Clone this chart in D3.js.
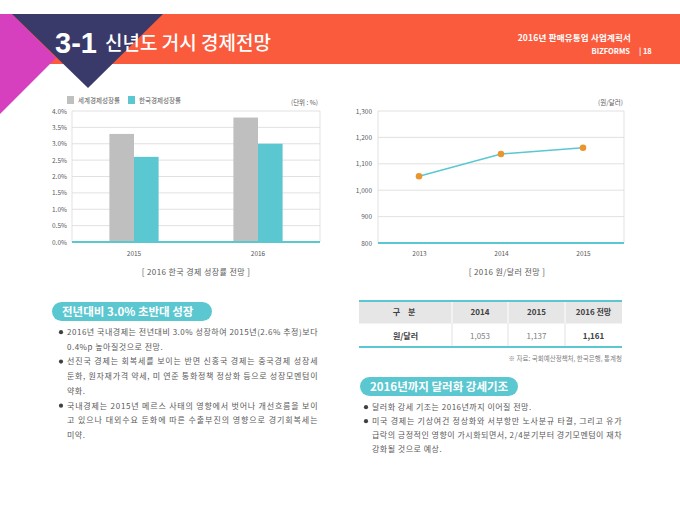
<!DOCTYPE html>
<html>
<head>
<meta charset="utf-8">
<script src="https://cdn.jsdelivr.net/npm/d3@7"></script>
<style>
  body { margin: 0; background: #fff; }
  svg { display: block; }
  text { font-family: "Noto Sans CJK KR", "Noto Sans", sans-serif; }
</style>
</head>
<body>
<svg id="slide" width="680" height="510"></svg>
<script>
// growth chart
var growthYears = ['2015', '2016'];
var growthSeries = ['세계경제성장률', '한국경제성장률'];
var worldGrowth = [3.3, 3.8];
var koreaGrowth = [2.6, 3.0];
var growthTicks = [0, 0.5, 1.0, 1.5, 2.0, 2.5, 3.0, 3.5, 4.0];

// exchange rate chart
var fxYears = ['2013', '2014', '2015'];
var fxRates = [1053, 1137, 1161];
var fxTicks = [800, 900, 1000, 1100, 1200, 1300];

// table
var tableHead = ['구 분', '2014', '2015', '2016 전망'];
var tableRow = ['원/달러', '1,053', '1,137', '1,161'];

var leftBullets = [
  ['2016년 국내경제는 전년대비 3.0% 성장하여 2015년(2.6% 추정)보다', '0.4%p 높아질것으로 전망.'],
  ['선진국 경제는 회복세를 보이는 반면 신흥국 경제는 중국경제 성장세', '둔화, 원자재가격 약세, 미 연준 통화정책 정상화 등으로 성장모멘텀이', '약화.'],
  ['국내경제는 2015년 메르스 사태의 영향에서 벗어나 개선흐름을 보이', '고 있으나 대외수요 둔화에 따른 수출부진의 영향으로 경기회복세는', '미약.']
];
var rightBullets = [
  ['달러화 강세 기조는 2016년까지 이어질 전망.'],
  ['미국 경제는 기상여건 정상화와 서부항만 노사분규 타결, 그리고 유가', '급락의 긍정적인 영향이 가시화되면서, 2/4분기부터 경기모멘텀이 재차', '강화될 것으로 예상.']
];

var teal = '#5bc7d1';
var grey = '#bfbfbf';
var orange = '#e9962f';
var textGrey = '#595959';

var svg = d3.select('#slide');

// ---- header band ----
svg.append('rect')
  .attr('x', 0).attr('y', 14).attr('width', 680).attr('height', 50)
  .attr('fill', '#fa5b3d');
svg.append('polygon')
  .attr('points', '0,14 12,14 56,58 0,114')
  .attr('fill', '#d63fbe');
svg.append('polygon')
  .attr('points', '12,14 163,14 88,88')
  .attr('fill', '#3a3a6a');

svg.append('text')
  .attr('x', 55).attr('y', 53)
  .attr('fill', '#fff')
  .style('font-family', '"Liberation Sans Narrow", "Liberation Sans", Arial, sans-serif')
  .style('font-weight', 'bold')
  .style('font-size', '29px')
  .text('3-1');
svg.append('text')
  .attr('x', 105).attr('y', 50)
  .attr('fill', '#fff')
  .style('font-size', '19px')
  .style('font-weight', 500)
  .text('신년도 거시 경제전망');

svg.append('text')
  .attr('x', 631).attr('y', 41)
  .attr('text-anchor', 'end')
  .attr('fill', '#fff')
  .style('font-size', '8.5px')
  .style('font-weight', 'bold')
  .style('letter-spacing', '0.2px')
  .text('2016년 판매유통업 사업계획서');
svg.append('text')
  .attr('x', 630).attr('y', 54)
  .attr('text-anchor', 'end')
  .attr('fill', '#fff')
  .style('font-size', '7.5px')
  .style('font-weight', 'bold')
  .text('BIZFORMS');
svg.append('text')
  .attr('x', 639).attr('y', 54)
  .attr('fill', '#fff')
  .style('font-size', '7.5px')
  .style('font-weight', 'bold')
  .text('| 18');

// ---- growth bar chart ----
var bc = { left: 72, right: 320, top: 111, bottom: 242 };

var x0 = d3.scaleBand().domain(growthYears).range([bc.left, bc.right]);
var x1 = d3.scaleBand().domain(growthSeries).range([0, x0.bandwidth()]).paddingOuter(1.52);
var yG = d3.scaleLinear().domain([0, 4]).range([bc.bottom, bc.top]);
var barColor = d3.scaleOrdinal().domain(growthSeries).range([grey, teal]);

var growthChart = svg.append('g').attr('class', 'growth');

growthChart.append('g')
  .selectAll('line')
  .data(growthTicks)
  .join('line')
  .attr('x1', bc.left).attr('x2', bc.right)
  .attr('y1', function(d) { return yG(d); })
  .attr('y2', function(d) { return yG(d); })
  .attr('stroke', '#d9d9d9')
  .attr('stroke-width', 0.8);

growthChart.selectAll('.side')
  .data([bc.left, bc.right])
  .join('line')
  .attr('class', 'side')
  .attr('x1', function(d) { return d; }).attr('x2', function(d) { return d; })
  .attr('y1', bc.top).attr('y2', bc.bottom)
  .attr('stroke', '#d9d9d9')
  .attr('stroke-width', 0.8);

var growthRows = growthYears.map(function(year, i) {
  return { year: year, values: [
    { key: growthSeries[0], value: worldGrowth[i] },
    { key: growthSeries[1], value: koreaGrowth[i] }
  ] };
});

growthChart.selectAll('.year')
  .data(growthRows)
  .join('g')
  .attr('class', 'year')
  .attr('transform', function(d) { return 'translate(' + x0(d.year) + ',0)'; })
  .selectAll('rect')
  .data(function(d) { return d.values; })
  .join('rect')
  .attr('x', function(d) { return x1(d.key); })
  .attr('width', x1.bandwidth())
  .attr('y', function(d) { return yG(d.value); })
  .attr('height', function(d) { return yG(0) - yG(d.value); })
  .attr('fill', function(d) { return barColor(d.key); });

growthChart.append('line')
  .attr('x1', bc.left).attr('x2', bc.right)
  .attr('y1', bc.bottom).attr('y2', bc.bottom)
  .attr('stroke', teal)
  .attr('stroke-width', 2);

growthChart.append('g')
  .attr('transform', 'translate(' + bc.left + ',0)')
  .call(d3.axisLeft(yG).tickValues(growthTicks).tickSize(0).tickPadding(5)
    .tickFormat(function(d) { return d3.format('.1f')(d) + '%'; }))
  .call(function(g) { g.select('.domain').remove(); })
  .attr('font-family', null)
  .attr('font-size', 6.5)
  .selectAll('text').attr('fill', textGrey);

growthChart.append('g')
  .attr('transform', 'translate(0,' + bc.bottom + ')')
  .call(d3.axisBottom(x0).tickSize(0).tickPadding(9))
  .call(function(g) { g.select('.domain').remove(); })
  .attr('font-family', null)
  .attr('font-size', 6.5)
  .selectAll('text').attr('fill', textGrey);

// legend
var legend = growthChart.selectAll('.legend')
  .data(growthSeries)
  .join('g')
  .attr('class', 'legend')
  .attr('transform', function(d, i) { return 'translate(' + (67 + i * 61) + ',96)'; });
legend.append('rect')
  .attr('width', 7).attr('height', 8)
  .attr('fill', function(d) { return barColor(d); });
legend.append('text')
  .attr('x', 11).attr('y', 6.5)
  .attr('fill', textGrey)
  .style('font-size', '6.5px')
  .text(function(d) { return d; });

growthChart.append('text')
  .attr('x', 318).attr('y', 105)
  .attr('text-anchor', 'end')
  .attr('fill', textGrey)
  .style('font-size', '6.5px')
  .text('(단위 : %)');

growthChart.append('text')
  .attr('x', (bc.left + bc.right) / 2).attr('y', 275)
  .attr('text-anchor', 'middle')
  .attr('fill', textGrey)
  .style('font-size', '8px')
  .style('letter-spacing', '0.4px')
  .text('[ 2016 한국 경제 성장률 전망 ]');

// ---- exchange rate line chart ----
var lc = { left: 378, right: 624, top: 111, bottom: 243 };

var xF = d3.scalePoint().domain(fxYears).range([lc.left, lc.right]).padding(0.5);
var yF = d3.scaleLinear().domain([800, 1300]).range([lc.bottom, lc.top]);

var fxChart = svg.append('g').attr('class', 'fx');

fxChart.append('g')
  .selectAll('line')
  .data(fxTicks)
  .join('line')
  .attr('x1', lc.left).attr('x2', lc.right)
  .attr('y1', function(d) { return yF(d); })
  .attr('y2', function(d) { return yF(d); })
  .attr('stroke', '#d9d9d9')
  .attr('stroke-width', 0.8);

fxChart.selectAll('.side')
  .data([lc.left, lc.right])
  .join('line')
  .attr('class', 'side')
  .attr('x1', function(d) { return d; }).attr('x2', function(d) { return d; })
  .attr('y1', lc.top).attr('y2', lc.bottom)
  .attr('stroke', '#d9d9d9')
  .attr('stroke-width', 0.8);

fxChart.append('line')
  .attr('x1', lc.left).attr('x2', lc.right)
  .attr('y1', lc.bottom).attr('y2', lc.bottom)
  .attr('stroke', teal)
  .attr('stroke-width', 2);

var fxData = fxYears.map(function(year, i) { return { year: year, rate: fxRates[i] }; });

var fxLine = d3.line()
  .x(function(d) { return xF(d.year); })
  .y(function(d) { return yF(d.rate); });

fxChart.append('path')
  .datum(fxData)
  .attr('d', fxLine)
  .attr('fill', 'none')
  .attr('stroke', teal)
  .attr('stroke-width', 1.5);

fxChart.selectAll('circle')
  .data(fxData)
  .join('circle')
  .attr('cx', function(d) { return xF(d.year); })
  .attr('cy', function(d) { return yF(d.rate); })
  .attr('r', 3.3)
  .attr('fill', orange);

fxChart.append('g')
  .attr('transform', 'translate(' + lc.left + ',0)')
  .call(d3.axisLeft(yF).tickValues(fxTicks).tickSize(0).tickPadding(6).tickFormat(d3.format(',')))
  .call(function(g) { g.select('.domain').remove(); })
  .attr('font-family', null)
  .attr('font-size', 6.5)
  .selectAll('text').attr('fill', textGrey);

fxChart.append('g')
  .attr('transform', 'translate(0,' + lc.bottom + ')')
  .call(d3.axisBottom(xF).tickSize(0).tickPadding(8))
  .call(function(g) { g.select('.domain').remove(); })
  .attr('font-family', null)
  .attr('font-size', 6.5)
  .selectAll('text').attr('fill', textGrey);

fxChart.append('text')
  .attr('x', 623).attr('y', 105)
  .attr('text-anchor', 'end')
  .attr('fill', textGrey)
  .style('font-size', '6.5px')
  .text('(원/달러)');

fxChart.append('text')
  .attr('x', 507).attr('y', 275)
  .attr('text-anchor', 'middle')
  .attr('fill', textGrey)
  .style('font-size', '8px')
  .style('letter-spacing', '0.4px')
  .text('[ 2016 원/달러 전망 ]');

// ---- pills ----
function pill(x, y, w, label) {
  var g = svg.append('g').attr('transform', 'translate(' + x + ',' + y + ')');
  g.append('rect')
    .attr('width', w).attr('height', 19)
    .attr('rx', 9.5)
    .attr('fill', teal);
  g.append('text')
    .attr('x', 10).attr('y', 13.8)
    .attr('fill', '#fff')
    .style('font-size', '11.5px')
    .style('font-weight', 'bold')
    .text(label);
}
pill(52, 302, 160, '전년대비 3.0% 초반대 성장');
pill(360, 377, 158, '2016년까지 달러화 강세기조');

// ---- bullet text ----
function bullets(list, x, y0, lh, width) {
  var y = y0;
  list.forEach(function(lines) {
    svg.append('circle')
      .attr('cx', x - 6).attr('cy', y - 2.8)
      .attr('r', 2.1)
      .attr('fill', '#404040');
    lines.forEach(function(line, i) {
      var t = svg.append('text')
        .attr('x', x).attr('y', y)
        .attr('fill', textGrey)
        .style('font-size', '8px')
        .style('letter-spacing', '0.5px')
        .text(line);
      if (i < lines.length - 1) {
        t.attr('textLength', width).attr('lengthAdjust', 'spacing');
      }
      y += lh;
    });
  });
}
bullets(leftBullets, 67, 335, 14.7, 251);
bullets(rightBullets, 372, 410, 14, 250);

// ---- table ----
var colEdges = [359, 452, 508, 565, 622];
var tb = svg.append('g').attr('class', 'table');

tb.append('rect')
  .attr('x', colEdges[0]).attr('y', 301)
  .attr('width', colEdges[4] - colEdges[0]).attr('height', 22.5)
  .attr('fill', '#e6e6e6');

tb.selectAll('.vhead')
  .data(colEdges.slice(1, 4))
  .join('line')
  .attr('class', 'vhead')
  .attr('x1', function(d) { return d; }).attr('x2', function(d) { return d; })
  .attr('y1', 301).attr('y2', 323.5)
  .attr('stroke', '#fff').attr('stroke-width', 1);

tb.selectAll('.vrow')
  .data(colEdges.slice(1, 4))
  .join('line')
  .attr('class', 'vrow')
  .attr('x1', function(d) { return d; }).attr('x2', function(d) { return d; })
  .attr('y1', 323.5).attr('y2', 347)
  .attr('stroke', '#d9d9d9').attr('stroke-width', 0.8);

tb.selectAll('.hline')
  .data([301, 347])
  .join('line')
  .attr('class', 'hline')
  .attr('x1', colEdges[0]).attr('x2', colEdges[4])
  .attr('y1', function(d) { return d; }).attr('y2', function(d) { return d; })
  .attr('stroke', teal).attr('stroke-width', 2);

tb.selectAll('.head')
  .data(tableHead)
  .join('text')
  .attr('class', 'head')
  .attr('x', function(d, i) { return (colEdges[i] + colEdges[i + 1]) / 2; })
  .attr('y', 315)
  .attr('text-anchor', 'middle')
  .attr('fill', '#404040')
  .style('font-size', '8px')
  .style('font-weight', 'bold')
  .style('letter-spacing', function(d, i) { return i === 0 ? '3px' : null; })
  .text(function(d) { return d; });

tb.selectAll('.cell')
  .data(tableRow)
  .join('text')
  .attr('class', 'cell')
  .attr('x', function(d, i) { return (colEdges[i] + colEdges[i + 1]) / 2; })
  .attr('y', 338.5)
  .attr('text-anchor', 'middle')
  .attr('fill', function(d, i) { return (i === 0 || i === 3) ? '#404040' : '#7f7f7f'; })
  .style('font-size', '8px')
  .style('font-weight', function(d, i) { return (i === 0 || i === 3) ? 'bold' : 'normal'; })
  .text(function(d) { return d; });

svg.append('text')
  .attr('x', 622).attr('y', 361)
  .attr('text-anchor', 'end')
  .attr('fill', '#7f7f7f')
  .style('font-size', '6.5px')
  .text('※ 자료: 국회예산정책처, 한국은행, 통계청');
</script>
</body>
</html>
